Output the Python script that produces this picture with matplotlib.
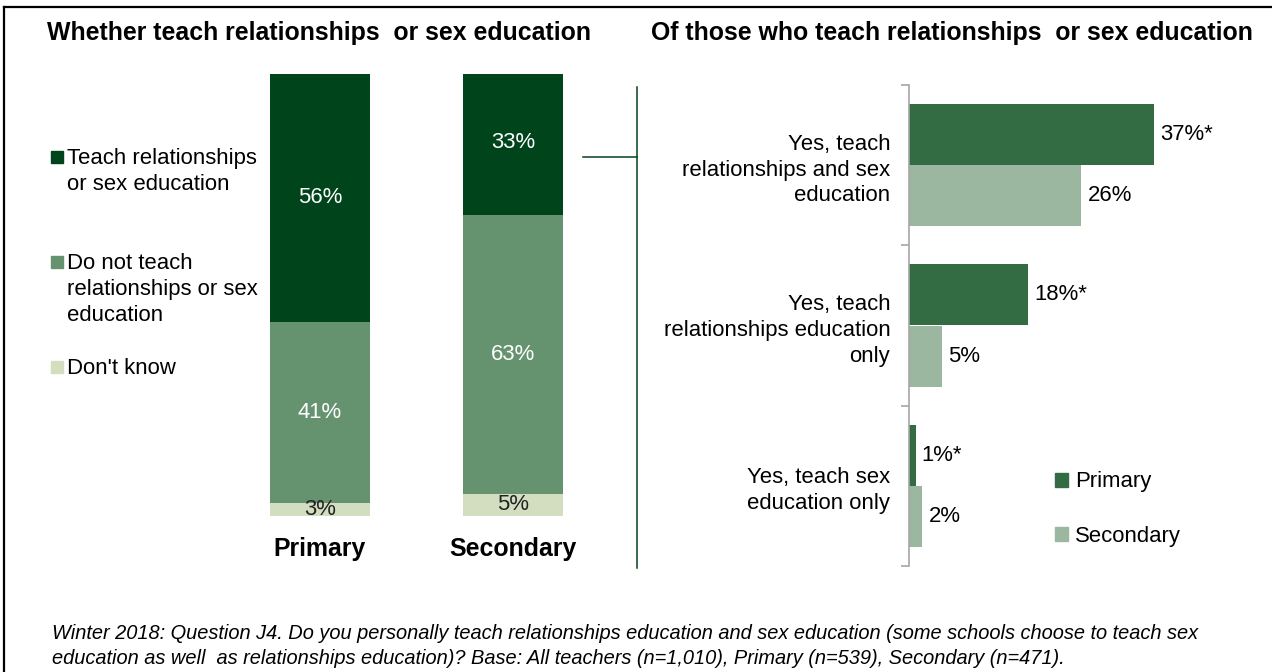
import matplotlib
matplotlib.use("Agg")
import matplotlib.pyplot as plt
from matplotlib.lines import Line2D
from matplotlib.patches import Patch

plt.rcParams['font.family'] = ['Liberation Sans', 'DejaVu Sans']

# ---- data ----
phases = ["Primary", "Secondary"]
stack_labels = ["Teach relationships\nor sex education",
                "Do not teach\nrelationships or sex\neducation",
                "Don't know"]
teach = [56, 33]
not_teach = [41, 63]
dont_know = [3, 5]

detail_categories = ["Yes, teach\nrelationships and sex\neducation",
                     "Yes, teach\nrelationships education\nonly",
                     "Yes, teach sex\neducation only"]
primary_vals = [37, 18, 1]
secondary_vals = [26, 5, 2]
series_names = ["Primary", "Secondary"]

left_title = "Whether teach relationships  or sex education"
right_title = "Of those who teach relationships  or sex education"
footnote = ("Winter 2018: Question J4. Do you personally teach relationships education and sex education (some schools choose to teach sex\n"
            "education as well  as relationships education)? Base: All teachers (n=1,010), Primary (n=539), Secondary (n=471).")

# ---- styling ----
C_TEACH = "#00441B"
C_NOT = "#66936F"
C_DK = "#D3DDBF"
C_PRI = "#336C43"
C_SEC = "#9BB7A0"
FS = 15.9
TITLE_FS = 17.95

W, H = 1272, 672
fig = plt.figure(figsize=(W / 100, H / 100), dpi=100)


def box(x0, y0, x1, y1):
    return [x0 / W, 1 - y1 / H, (x1 - x0) / W, (y1 - y0) / H]


# overlay in pixel coordinates for frame, titles, legend and connector
ov = fig.add_axes([0, 0, 1, 1], zorder=3)
ov.set_xlim(0, W)
ov.set_ylim(H, 0)
ov.axis("off")
ov.patch.set_visible(False)

ov.add_line(Line2D([4, W], [7, 7], color="black", lw=1.6))
ov.add_line(Line2D([4, 4], [7, H], color="black", lw=1.6))

ov.text(47, 33, left_title, fontsize=TITLE_FS, fontweight="bold", va="center", ha="left")
ov.text(651, 33, right_title, fontsize=TITLE_FS, fontweight="bold", va="center", ha="left")

# connector between the stacked bars and the detail chart
ov.add_line(Line2D([583, 637], [157, 157], color=C_TEACH, lw=1.1))
ov.add_line(Line2D([637, 637], [87, 568], color=C_TEACH, lw=1.1))

# left legend
legend_rows = [157, 262, 367]
for lab, col, y in zip(stack_labels, [C_TEACH, C_NOT, C_DK], legend_rows):
    ov.plot([57], [y], marker="s", ms=9.2, color=col, mec=col, ls="none")
    ov.text(67, y - 9, lab, fontsize=FS, va="top", ha="left", linespacing=1.3)

ov.text(52, 624, footnote, fontsize=14.4, style="italic", va="top", ha="left",
        linespacing=1.43)

# ---- left: stacked bars ----
axl = fig.add_axes(box(223.5, 74, 609.5, 516), zorder=1)
axl.patch.set_visible(False)
x = list(range(len(phases)))
bw = 100 / 193
axl.bar(x, dont_know, width=bw, color=C_DK)
axl.bar(x, not_teach, width=bw, bottom=dont_know, color=C_NOT)
bottoms2 = [a + b for a, b in zip(dont_know, not_teach)]
axl.bar(x, teach, width=bw, bottom=bottoms2, color=C_TEACH)
axl.set_xlim(-0.5, 1.5)
axl.set_ylim(0, 100)
for i in x:
    axl.text(i, dont_know[i] / 2, f"{dont_know[i]}%", ha="center", va="center",
             fontsize=FS, color="#222222")
    axl.text(i, dont_know[i] + not_teach[i] / 2, f"{not_teach[i]}%", ha="center",
             va="center", fontsize=FS, color="white")
    axl.text(i, bottoms2[i] + teach[i] / 2, f"{teach[i]}%", ha="center",
             va="center", fontsize=FS, color="white")
axl.set_xticks(x)
axl.set_xticklabels(phases, fontsize=TITLE_FS, fontweight="bold")
axl.tick_params(axis="x", length=0, pad=15)
axl.set_yticks([])
for s in axl.spines.values():
    s.set_visible(False)

# ---- right: grouped horizontal bars ----
axr = fig.add_axes(box(909, 85, 1260, 566), zorder=1)
axr.patch.set_visible(False)
yc = list(range(len(detail_categories)))
bh = 61 / 160
axr.barh([y - bh / 2 for y in yc], primary_vals, height=bh, color=C_PRI,
         label=series_names[0])
axr.barh([y + bh / 2 for y in yc], secondary_vals, height=bh, color=C_SEC,
         label=series_names[1])
axr.set_ylim(len(yc) - 0.5, -0.5)
axr.set_xlim(0, 53)
for y, v in zip(yc, primary_vals):
    axr.annotate(f"{v}%*", (v, y - bh / 2), xytext=(4.5, 0), textcoords="offset points",
                 ha="left", va="center", fontsize=FS)
for y, v in zip(yc, secondary_vals):
    axr.annotate(f"{v}%", (v, y + bh / 2), xytext=(4.5, 0), textcoords="offset points",
                 ha="left", va="center", fontsize=FS)
axr.set_yticks(yc)
axr.set_yticklabels(detail_categories, fontsize=FS, linespacing=1.3)
axr.set_yticks([y - 0.5 for y in yc] + [len(yc) - 0.5], minor=True)
axr.tick_params(axis="y", which="major", length=0, pad=13.5)
axr.tick_params(axis="y", which="minor", length=6, color="#A6A6A6", width=1.2)
axr.set_xticks([])
for k in ["top", "right", "bottom"]:
    axr.spines[k].set_visible(False)
axr.spines["left"].set_color("#A6A6A6")
axr.spines["left"].set_linewidth(1.2)

handles = [Patch(color=C_PRI), Patch(color=C_SEC)]
fig.legend(handles, series_names, loc="center left",
           bbox_to_anchor=(1046 / W, 1 - 509 / H), frameon=False, fontsize=FS,
           handlelength=0.6, handleheight=0.6, handletextpad=0.3,
           labelspacing=1.5, borderaxespad=0)

fig.savefig("out.png", dpi=100)
